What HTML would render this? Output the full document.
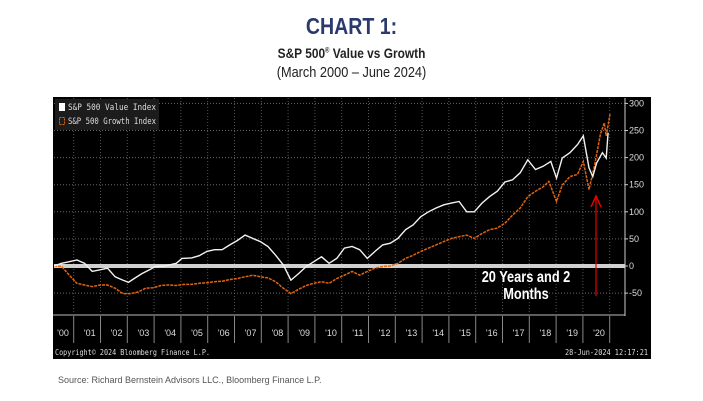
<!DOCTYPE html>
<html><head><meta charset="utf-8">
<style>
body{margin:0;background:#fff;width:703px;height:401px;overflow:hidden;font-family:"Liberation Sans",sans-serif;position:relative}
.t{position:absolute;left:0;width:703px;text-align:center;white-space:nowrap}
</style></head><body>
<div class="t" style="top:13px;font-size:23px;font-weight:bold;color:#2b3a6e;transform:scaleX(0.85)">CHART 1:</div>
<div class="t" style="top:45px;font-size:14px;font-weight:bold;color:#222;transform:scaleX(0.85)">S&amp;P 500<sup style="font-size:7px">®</sup> Value vs Growth</div>
<div class="t" style="top:64px;font-size:15px;color:#222;transform:scaleX(0.85)">(March 2000 – June 2024)</div>
<svg id="chart" width="703" height="401" style="position:absolute;left:0;top:0" xmlns="http://www.w3.org/2000/svg"></svg>
<div style="position:absolute;left:58px;top:375px;font-size:9px;color:#555">Source: Richard Bernstein Advisors LLC., Bloomberg Finance L.P.</div>
<script>
const valueMonths=[0,4,8,12,16,20,24,28,32,36,39,42,46,50,53,58,64,67,72,76,80,84,88,92,96,100,104,108,112,116,120,124,128,132,136,140,144,148,152,156,160,164,168,172,176,180,184,188,192,196,200,204,208,212,216,220,224,228,232,236,240,244,248,252,256,260,263,266,270,274,277,280,282,284,287,289,290];
const valueSeries=[0,5,8,11,5,-10,-7,-4,-20,-26,-30,-23,-14,-7,-1,0,5,14,15,19,27,30,30,39,47,57,51,45,36,20,2,-26,-14,-1,8,17,5,14,33,36,30,14,27,39,42,51,67,76,91,100,107,113,116,119,100,100,116,128,138,155,159,172,196,178,184,193,162,199,209,224,240,181,165,190,209,199,246];
const growthMonths=[0,4,8,12,16,20,24,28,32,36,40,44,48,52,56,60,64,68,72,76,80,84,88,92,96,100,104,108,112,116,120,124,128,132,136,140,144,148,152,156,160,164,168,172,176,180,184,188,192,196,200,204,208,212,216,220,224,228,232,236,240,244,248,252,256,259,263,266,270,274,277,280,283,286,288,289,291];
const growthSeries=[0,-1,-17,-32,-35,-38,-35,-35,-41,-51,-51,-48,-41,-40,-36,-35,-36,-34,-34,-32,-31,-29,-28,-25,-23,-20,-17,-20,-22,-29,-41,-51,-43,-36,-32,-29,-32,-23,-17,-10,-17,-10,-4,-1,0,5,14,20,27,33,39,45,51,54,57,51,60,67,70,79,94,107,128,138,146,156,119,149,165,169,193,141,187,243,264,240,280];
const yTicks=[300,250,200,150,100,50,0,-50];
const yearLabels=["'00","'01","'02","'03","'04","'05","'06","'07","'08","'09","'10","'11","'12","'13","'14","'15","'16","'17","'18","'19","'20"];
const NS="http://www.w3.org/2000/svg";
const svg=document.getElementById('chart');
function mk(tag,attrs,parent){const e=document.createElementNS(NS,tag);for(const k in attrs)e.setAttribute(k,attrs[k]);(parent||svg).appendChild(e);return e;}
const X0=54,X1=610,PR=625;
function xs(m){return X0+(X1-X0)*m/291;}
function ys(v){return 266-v*27.1/50;}
let bg=mk('rect',{x:53,y:97,width:598,height:262,fill:'#000'});


yTicks.forEach(v=>{
  if(v!==0){let g=mk('line',{x1:X0,x2:PR,y1:ys(v),y2:ys(v),stroke:'#666','stroke-dasharray':'1,2','stroke-width':1});
  
  }
  mk('line',{x1:PR,x2:PR+3,y1:ys(v),y2:ys(v),stroke:'#ccc'});
  let t=mk('text',{x:PR+4,y:ys(v)+3,fill:'#ddd','font-size':9,'font-family':'Liberation Sans, sans-serif'});
  t.textContent=v;
  
  
});
mk('line',{x1:PR,x2:PR,y1:98,y2:316,stroke:'#ccc','stroke-width':1});
for(let i=0;i<yearLabels.length;i++){
  const xd=73.7+26.8*i;
  let g=mk('line',{x1:xd,x2:xd,y1:98,y2:314,stroke:'#555','stroke-dasharray':'1,2'});
  
  
  mk('line',{x1:xd,x2:xd,y1:316,y2:343,stroke:'#888'});
  let t=mk('text',{x:63+26.8*i,y:336,fill:'#ddd','font-size':9,'text-anchor':'middle','font-family':'Liberation Sans, sans-serif'});
  t.textContent=yearLabels[i];
  
  
}
mk('line',{x1:53,x2:PR,y1:315,y2:315,stroke:'#bbb','stroke-width':1});
let z=mk('line',{x1:X0,x2:PR,y1:ys(0),y2:ys(0),stroke:'#d0d0d0','stroke-width':4});


function path(ms,vs){return ms.map((m,i)=>(i?'L':'M')+xs(m).toFixed(1)+','+ys(vs[i]).toFixed(1)).join('');}
let gp=mk('path',{d:path(growthMonths,growthSeries),fill:'none',stroke:'#e0640f','stroke-width':1.5,'stroke-dasharray':'3,1'});


let vp=mk('path',{d:path(valueMonths,valueSeries),fill:'none',stroke:'#f2f2f2','stroke-width':1.4});


let lg=mk('rect',{x:55,y:99,width:104,height:31,fill:'#1c1c1c'});


mk('rect',{x:59,y:103,width:6,height:8,fill:'#fff'});
mk('rect',{x:59.5,y:117.5,width:5,height:7,fill:'none',stroke:'#e0640f','stroke-dasharray':'2,1'});
[['S&P 500 Value Index',110],['S&P 500 Growth Index',124]].forEach(([s,y])=>{
  let t=mk('text',{x:68,y:y,fill:'#ddd','font-size':8.5,'font-family':'DejaVu Sans Mono, monospace',textLength:88,lengthAdjust:'spacingAndGlyphs'});
  t.textContent=s;
  
  
});
[['20 Years and 2',282],['Months',299]].forEach(([s,y])=>{
  let t=mk('text',{x:526,y:y,fill:'#fff','font-size':16,'font-weight':'bold','text-anchor':'middle','font-family':'Liberation Sans, sans-serif',transform:`translate(526 0) scale(0.8 1) translate(-526 0)`});
  t.textContent=s;
  
  
});
let ar=mk('line',{x1:596,x2:596,y1:296,y2:198,stroke:'#e00','stroke-width':1.2});


mk('path',{d:'M591,207 L596,196 L601,207',fill:'none',stroke:'#e00','stroke-width':1.4});
let c1=mk('text',{x:55,y:355,fill:'#ddd','font-size':8,'font-family':'DejaVu Sans Mono, monospace',textLength:155,lengthAdjust:'spacingAndGlyphs'});
c1.textContent='Copyright© 2024 Bloomberg Finance L.P.';


let c2=mk('text',{x:648,y:355,fill:'#ddd','font-size':8,'text-anchor':'end','font-family':'DejaVu Sans Mono, monospace',textLength:83,lengthAdjust:'spacingAndGlyphs'});
c2.textContent='28-Jun-2024 12:17:21';


</script>
</body></html>
